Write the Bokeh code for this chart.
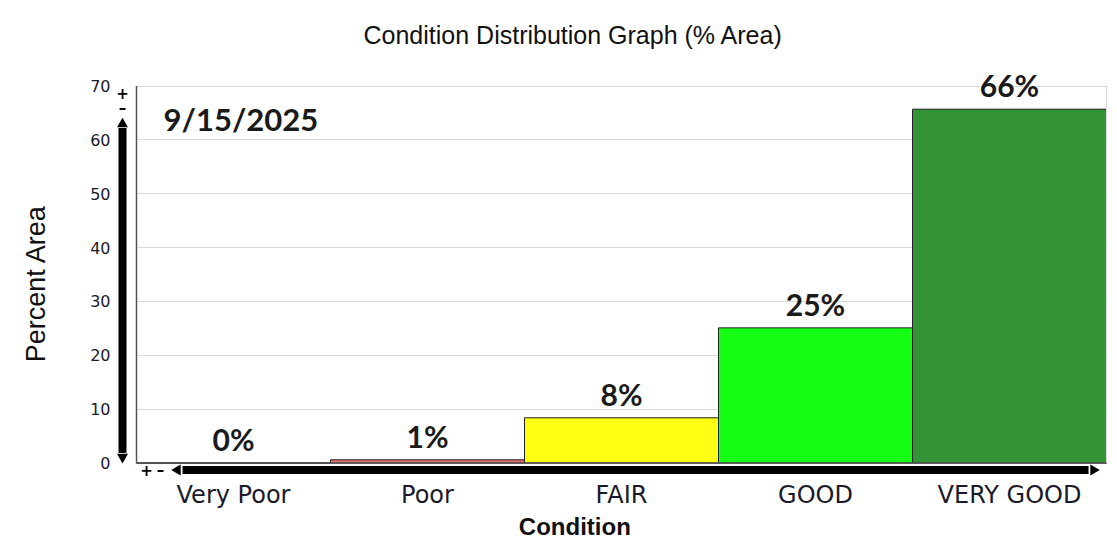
from bokeh.plotting import figure
from bokeh.models import Range1d, FixedTicker, ColumnDataSource
from bokeh.core.properties import value
from bokeh.embed import file_html
from bokeh.resources import INLINE
import numpy as np

# ---- data ----
categories = ["Very Poor", "Poor", "FAIR", "GOOD", "VERY GOOD"]
percent_area = [0.0, 0.6, 8.4, 25.1, 65.7]
bar_labels = ["0%", "1%", "8%", "25%", "66%"]
bar_colors = ["#c00000", "#e8706e", "#ffff14", "#14ff14", "#339435"]
y_ticks = [0, 10, 20, 30, 40, 50, 60, 70]
date_text = "9/15/2025"
title_text = "Condition Distribution Graph (% Area)"

# ---- geometry (pixel scale helpers) ----
PX_X = 194.0          # pixels per category
PX_Y = 377.0 / 70.0   # pixels per percent
n = len(categories)
TOP_PAD = 25.0        # extra frame room above the 70 line for the labels
x_start = -21.0 / PX_X
x_end = n + 1.0 / PX_X
y_end = 70.1 + TOP_PAD / PX_Y
y_start = 70.1 - 391.0 / PX_Y

def dx(px):
    return px / PX_X

def dy(px):
    return px / PX_Y

p = figure(width=1109, height=546, output_backend="svg", toolbar_location=None,
           x_range=Range1d(x_start, x_end), y_range=Range1d(y_start, y_end),
           min_border_left=115, min_border_right=2, min_border_top=60, min_border_bottom=70,
           background_fill_color="white", border_fill_color="white")
p.outline_line_color = None

# title
p.title.text = title_text
p.title.text_font = "Liberation Sans"
p.title.text_font_size = "25px"
p.title.text_font_style = "normal"
p.title.text_color = "#111111"
p.title.align = "left"
p.title.offset = 248
p.title.standoff = 23

# grid
p.xgrid.grid_line_color = None
p.ygrid.ticker = FixedTicker(ticks=y_ticks)
p.ygrid.grid_line_color = "#d9d9d9"
p.ygrid.grid_line_width = 1

# y axis
p.yaxis.ticker = FixedTicker(ticks=y_ticks)
p.yaxis.axis_line_color = None
p.yaxis.major_tick_line_color = None
p.yaxis.minor_tick_line_color = None
p.yaxis.major_tick_out = 0
p.yaxis.major_label_standoff = 5
p.yaxis.major_label_text_font = "DejaVu Sans"
p.yaxis.major_label_text_font_size = "16px"
p.yaxis.major_label_text_color = "#1a1a2a"
p.yaxis.axis_label = "Percent Area" + "\u00a0" * 4
p.yaxis.axis_label_text_font = "Liberation Sans"
p.yaxis.axis_label_text_font_size = "27px"
p.yaxis.axis_label_text_font_style = "normal"
p.yaxis.axis_label_text_color = "#111111"
p.yaxis.axis_label_standoff = 36

# x axis
centers = [i + 0.5 for i in range(n)]
p.xaxis.ticker = FixedTicker(ticks=centers)
p.xaxis.major_label_overrides = {c: lab for c, lab in zip(centers, categories)}
p.xaxis.axis_line_color = None
p.xaxis.major_tick_line_color = None
p.xaxis.minor_tick_line_color = None
p.xaxis.major_tick_out = 0
p.xaxis.major_label_standoff = 4
p.xaxis.major_label_text_font = "DejaVu Sans"
p.xaxis.major_label_text_font_size = "24px"
p.xaxis.major_label_text_color = "#1a1a2a"
p.xaxis.axis_label = "Condition" + "\u00a0" * 11
p.xaxis.axis_label_text_font = "Liberation Sans"
p.xaxis.axis_label_text_font_size = "24px"
p.xaxis.axis_label_text_font_style = "bold"
p.xaxis.axis_label_text_color = "#111111"
p.xaxis.axis_label_standoff = 1

# white cover for the strip left of the plot area (hides grid there)
p.quad(left=[x_start], right=[0], bottom=[y_start], top=[y_end],
       fill_color="white", line_color=None)

# bars
src = ColumnDataSource(dict(x=centers, top=percent_area, color=bar_colors,
                            label=bar_labels, cat=categories))
p.vbar(x="x", top="top", bottom=0, width=1.0, fill_color="color",
       line_color="#222222", line_width=1, source=src)

# frame lines
p.segment(x0=[0, 0], y0=[0, 0], x1=[0, n], y1=[70, 0], line_color="#555555", line_width=1.5)
p.segment(x0=[n], y0=[0], x1=[n], y1=[70], line_color="#d9d9d9", line_width=1)

# bar value labels
p.text(x="x", y="top", text="label", source=src, text_align="center",
       text_baseline="alphabetic", y_offset=-24,
       text_font=value("Lato"), text_font_style="bold", text_font_size="30px",
       text_color="#1a1a1a")

# date label
p.text(x=[0], y=[70], text=[date_text], x_offset=27, y_offset=33,
       text_align="left", text_baseline="alphabetic",
       text_font=value("Lato"), text_font_style="bold", text_font_size="31px",
       text_color="#1a1a1a")

# scroll-bar style decorations along the axes
# vertical bar
p.quad(left=[dx(-18)], right=[dx(-10)], bottom=[dy(10)], top=[dy(335)],
       fill_color="black", line_color=None)
p.scatter(x=[dx(-14)], y=[dy(339)], marker="triangle", size=11,
          fill_color="black", line_color=None)
p.scatter(x=[dx(-14)], y=[dy(6)], marker="inverted_triangle", size=11,
          fill_color="black", line_color=None)
p.text(x=[dx(-14)], y=[dy(370)], text=["+"], text_align="center", text_baseline="middle",
       text_font=value("DejaVu Sans"), text_font_style="bold", text_font_size="15px",
       text_color="black")
p.text(x=[dx(-14)], y=[dy(355)], text=["\u2013"], text_align="center", text_baseline="middle",
       text_font=value("DejaVu Sans"), text_font_style="bold", text_font_size="15px",
       text_color="black")
# horizontal bar
p.quad(left=[dx(46)], right=[dx(952)], bottom=[dy(-11)], top=[dy(-3)],
       fill_color="black", line_color=None)
p.scatter(x=[dx(41)], y=[dy(-7)], marker="triangle", angle=np.pi / 2, size=11,
          fill_color="black", line_color=None)
p.scatter(x=[dx(957)], y=[dy(-7)], marker="triangle", angle=-np.pi / 2, size=11,
          fill_color="black", line_color=None)
p.text(x=[dx(10)], y=[dy(-7)], text=["+"], text_align="center", text_baseline="middle",
       text_font=value("DejaVu Sans"), text_font_style="bold", text_font_size="15px",
       text_color="black")
p.text(x=[dx(24)], y=[dy(-7)], text=["\u2013"], text_align="center", text_baseline="middle",
       text_font=value("DejaVu Sans"), text_font_style="bold", text_font_size="15px",
       text_color="black")

open("out.html", "w").write(file_html(p, INLINE))
